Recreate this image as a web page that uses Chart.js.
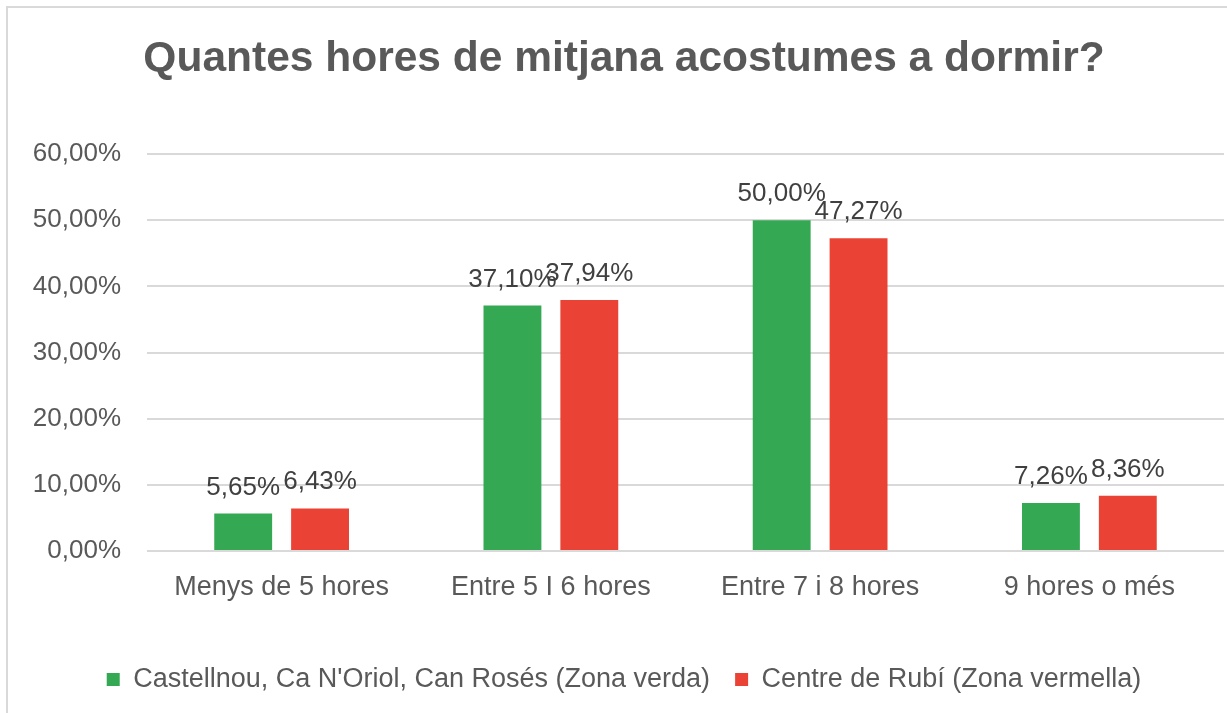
<!DOCTYPE html>
<html>
<head>
<meta charset="utf-8">
<script src="https://cdn.jsdelivr.net/npm/chart.js@4/dist/chart.umd.min.js"></script>
<style>
  body { margin: 0; background: #fff; overflow: hidden; }
  #frame { position: absolute; left: 6px; top: 6px; width: 1240px; height: 720px; border: 2px solid #d9d9d9; box-sizing: border-box; }
  #wrap { position: absolute; left: 0; top: 0; width: 1227px; height: 713px; }
</style>
</head>
<body>
<div id="frame"></div>
<div id="wrap"><canvas id="chart"></canvas></div>
<script>
// Dades del gràfic
const categories = ['Menys de 5 hores', 'Entre 5 I 6 hores', 'Entre 7 i 8 hores', '9 hores o més'];
const zonaVerda = [5.65, 37.10, 50.00, 7.26];
const zonaVermella = [6.43, 37.94, 47.27, 8.36];
const seriesNames = ['Castellnou, Ca N\'Oriol, Can Rosés (Zona verda)', 'Centre de Rubí (Zona vermella)'];
const yTicks = [0, 10, 20, 30, 40, 50, 60];

const FONT = 'Arial, "Liberation Sans", sans-serif';

// Format català: 37,10%
function pct(v) {
    return v.toFixed(2).replace('.', ',') + '%';
}

// Etiquetes de dades sobre cada barra
const labelsPlugin = {
    id: 'barLabels',
    afterDatasetsDraw(chart) {
        const ctx = chart.ctx;
        ctx.save();
        ctx.font = '26px ' + FONT;
        ctx.fillStyle = '#404040';
        ctx.textAlign = 'center';
        ctx.textBaseline = 'alphabetic';
        chart.data.datasets.forEach((ds, i) => {
            chart.getDatasetMeta(i).data.forEach((bar, j) => {
                ctx.fillText(pct(ds.data[j]), bar.x, bar.y - 19);
            });
        });
        ctx.restore();
    }
};

new Chart(document.getElementById('chart'), {
    type: 'bar',
    data: {
        labels: categories,
        datasets: [
            { label: seriesNames[0], data: zonaVerda, backgroundColor: '#34A853' },
            { label: seriesNames[1], data: zonaVermella, backgroundColor: '#EA4335' }
        ]
    },
    options: {
        responsive: true,
        maintainAspectRatio: false,
        animation: false,
        layout: { padding: { left: 24, right: 3, top: 0, bottom: 10 } },
        datasets: { bar: { categoryPercentage: 0.571, barPercentage: 0.753 } },
        plugins: {
            title: {
                display: true,
                text: 'Quantes hores de mitjana acostumes a dormir?',
                color: '#595959',
                font: { family: FONT, size: 42.5, weight: 'bold' },
                padding: { top: 34, bottom: 69 }
            },
            legend: {
                position: 'bottom',
                labels: {
                    color: '#595959',
                    font: { family: FONT, size: 27 },
                    boxWidth: 13,
                    boxHeight: 13,
                    padding: 25
                }
            },
            tooltip: { enabled: false }
        },
        scales: {
            x: {
                grid: { display: false },
                border: { display: false },
                ticks: { color: '#595959', font: { family: FONT, size: 27 }, padding: 12 },
                afterFit(scale) { scale.height = 90; }
            },
            y: {
                min: 0,
                max: 60,
                afterBuildTicks(scale) { scale.ticks = yTicks.map(v => ({ value: v })); },
                grid: { color: '#d9d9d9', lineWidth: 2, drawTicks: false },
                border: { display: false },
                ticks: {
                    color: '#595959',
                    font: { family: FONT, size: 26 },
                    padding: 26,
                    callback: v => pct(v)
                },
                afterFit(scale) { scale.width = 123; }
            }
        }
    },
    plugins: [labelsPlugin]
});
</script>
</body>
</html>
